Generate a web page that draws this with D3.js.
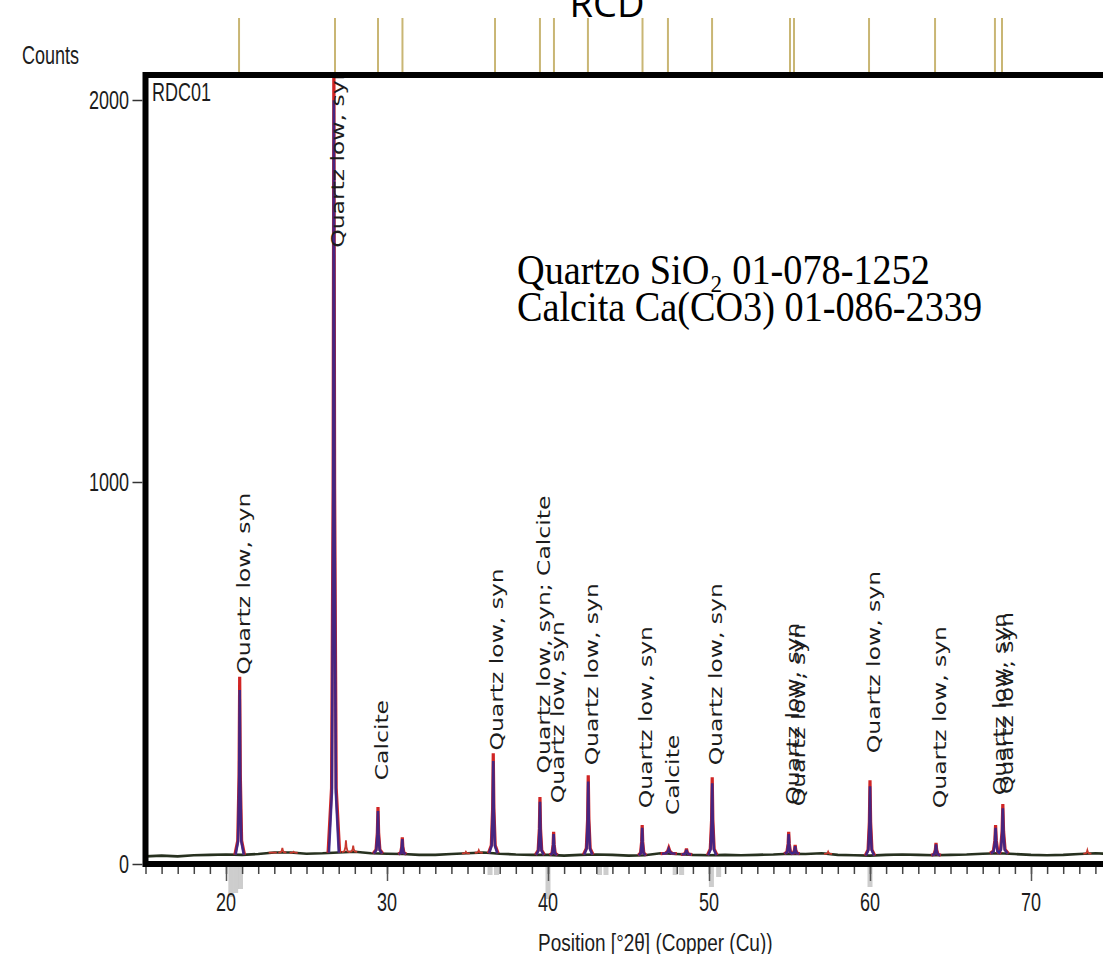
<!DOCTYPE html>
<html>
<head>
<meta charset="utf-8">
<title>RCD</title>
<script src="https://d3js.org/d3.v7.min.js"></script>
<style>
    body { margin: 0; background: #fff; }
</style>
</head>
<body>
<div id="chart"></div>
<script>
    // peaks of the pattern, position in deg 2theta and counts
    const peakPos    = [20.85, 26.7, 29.44, 30.95, 36.6, 39.5, 40.35, 42.5, 45.85, 47.5, 48.6, 50.2, 54.95, 55.35, 60.0, 64.1, 67.8, 68.25];
    const peakCounts = [490, 2150, 149, 70, 290, 175, 84, 232, 102, 42, 40, 227, 84, 50, 219, 55, 102, 157];
    const peakWidth  = [0.3, 0.36, 0.3, 0.25, 0.3, 0.28, 0.25, 0.3, 0.25, 0.5, 0.35, 0.3, 0.28, 0.28, 0.3, 0.3, 0.35, 0.35];

    // small unlabeled bumps (observed only)
    const bumpPos    = [22.9, 23.5, 24.2, 27.45, 27.9, 34.9, 35.7, 57.4, 73.5];
    const bumpCounts = [30, 42, 32, 62, 48, 32, 36, 32, 36];

    // background level
    const bgPos    = [15, 16, 17, 18, 19, 20, 21, 22, 23, 24, 25, 26, 27, 28, 29, 30, 31, 32, 33, 34, 35, 36, 37, 38, 39, 40, 41, 42, 43, 44, 45,
                      46, 47, 48, 49, 50, 51, 52, 53, 54, 55, 56, 57, 58, 59, 60, 61, 62, 63, 64, 65, 66, 67, 68, 69, 70, 71, 72, 73, 74, 75];
    const bgCounts = [20, 22, 20, 23, 24, 25, 24, 26, 30, 30, 27, 28, 30, 32, 28, 27, 26, 24, 24, 26, 28, 30, 27, 25, 24, 24, 22, 24, 25, 24, 22,
                      23, 28, 26, 24, 23, 24, 23, 24, 25, 27, 26, 28, 24, 23, 22, 24, 25, 24, 23, 24, 25, 27, 28, 26, 24, 23, 24, 26, 28, 26];

    // peak labels
    const labelPos    = [20.85, 26.7, 29.44, 36.6, 39.5, 40.35, 42.5, 45.85, 47.5, 50.2, 54.95, 55.35, 60.0, 64.1, 67.8, 68.25];
    const labelCounts = [490, 1608, 214, 292, 232, 154, 253, 141, 123, 253, 150, 146, 285, 141, 175, 178];
    const labelText   = ["Quartz low, syn", "Quartz low, syn", "Calcite", "Quartz low, syn", "Quartz low, syn; Calcite",
                         "Quartz low, syn", "Quartz low, syn", "Quartz low, syn", "Calcite", "Quartz low, syn",
                         "Quartz low, syn", "Quartz low, syn", "Quartz low, syn", "Quartz low, syn", "Quartz low, syn", "Quartz low, syn"];

    // reference sticks above the plot
    const refPos = [20.81, 26.77, 29.44, 30.96, 36.71, 39.5, 40.37, 42.48, 45.87, 47.45, 50.19, 55.03, 55.28, 59.94, 64.04, 67.76, 68.2];
    // faint grey sticks under the axis
    const lowRefPos = [20.3, 20.6, 20.9, 36.4, 36.8, 40.0, 43.2, 43.6, 47.9, 48.3, 50.15, 50.6, 60.0];
    const lowRefLen = [30, 26, 22, 8, 8, 32, 8, 8, 8, 8, 20, 10, 20];

    const xTicks = [20, 30, 40, 50, 60, 70];
    const yTicks = [0, 1000, 2000];
    const noteLines = ["Quartzo SiO\u2082 01-078-1252", "Calcita Ca(CO3) 01-086-2339"];

    const width = 1103, height = 954;
    const frameTop = 75;
    const stretch = 1.42;

    const svg = d3.select("#chart").append("svg")
        .attr("width", width)
        .attr("height", height);

    const x = d3.scaleLinear().domain([15, 75]).range([145.5, 1111.5]);
    const y = d3.scaleLinear().domain([0, 2000]).range([864, 100]);

    // text drawn tall, like the stretched original
    function tallText(parent, tx, ty, txt, size, anchor, family, k) {
        return parent.append("g")
            .attr("transform", "translate(" + tx + "," + ty + ") scale(1," + (k || stretch) + ")")
            .append("text")
            .attr("text-anchor", anchor || "start")
            .style("font-family", family || "'Liberation Sans', Arial, sans-serif")
            .style("font-size", size + "px")
            .attr("fill", "#1c1c1c")
            .text(txt);
    }

    svg.append("defs").append("clipPath").attr("id", "plot")
        .append("rect")
        .attr("x", x(15)).attr("y", frameTop)
        .attr("width", x(75) - x(15)).attr("height", y(0) - frameTop);

    // title, cut at the top edge as in the original
    svg.append("text")
        .attr("x", 607).attr("y", 17)
        .attr("text-anchor", "middle")
        .style("font-family", "'Open Sans', sans-serif")
        .style("font-size", "38px")
        .text("RCD");

    // reference sticks
    svg.selectAll(".ref")
        .data(refPos)
        .enter()
        .append("line")
        .attr("class", "ref")
        .attr("x1", d => x(d)).attr("x2", d => x(d))
        .attr("y1", 18).attr("y2", frameTop)
        .attr("stroke", "#c9b674")
        .attr("stroke-width", 2);

    svg.selectAll(".lowref")
        .data(lowRefPos)
        .enter()
        .append("line")
        .attr("x1", d => x(d)).attr("x2", d => x(d))
        .attr("y1", y(0) + 3)
        .attr("y2", (d, i) => y(0) + 3 + lowRefLen[i])
        .attr("stroke", "#b8b8b8")
        .attr("stroke-width", 5)
        .attr("opacity", 0.7);

    const plot = svg.append("g").attr("clip-path", "url(#plot)");

    // background
    const line = d3.line().x(d => x(d[0])).y(d => y(d[1]));
    const bgAt = d3.scaleLinear().domain(bgPos).range(bgCounts);
    plot.append("path")
        .attr("d", line(d3.zip(bgPos, bgCounts)))
        .attr("fill", "none")
        .attr("stroke", "#27311f")
        .attr("stroke-width", 2.6);

    // peak outline: offsets in units of the half base width, and share of height
    const shapeOff = [-1, -0.4, -0.13, 0, 0.13, 0.4, 1];
    const shapeFrac = [0, 0.08, 0.45, 1, 0.45, 0.08, 0];
    function peakPath(p, h, w) {
        const b = bgAt(p);
        return line(shapeOff.map((o, i) => [p + o * w, b + shapeFrac[i] * (h - b)]));
    }

    plot.selectAll(".bump")
        .data(bumpPos)
        .enter()
        .append("path")
        .attr("d", (d, i) => peakPath(d, bumpCounts[i], 0.25))
        .attr("fill", "none")
        .attr("stroke", "#c8392e")
        .attr("stroke-width", 1.8);

    plot.selectAll(".obs")
        .data(peakPos)
        .enter()
        .append("path")
        .attr("d", (d, i) => peakPath(d, peakCounts[i], peakWidth[i]))
        .attr("fill", "none")
        .attr("stroke", "#d02525")
        .attr("stroke-width", 3.2);

    plot.selectAll(".calc")
        .data(peakPos)
        .enter()
        .append("path")
        .attr("d", (d, i) => peakPath(d, peakCounts[i] * 0.93, peakWidth[i] * 0.85))
        .attr("fill", "none")
        .attr("stroke", "#2e2690")
        .attr("stroke-width", 2.6)
        .attr("opacity", 0.85);

    // peak labels, reading upwards
    plot.selectAll(".lbl")
        .data(labelPos)
        .enter()
        .append("g")
        .attr("transform", (d, i) => "translate(" + (x(d) + 4) + "," + (y(labelCounts[i]) - 2) + ") scale(1,1.38) rotate(-90)")
        .append("text")
        .attr("dy", "0.35em")
        .style("font-family", "'DejaVu Sans', Verdana, sans-serif")
        .style("font-size", "17px")
        .attr("fill", "#1c1c1c")
        .text((d, i) => labelText[i]);

    // frame
    svg.append("rect")
        .attr("x", x(15)).attr("y", frameTop)
        .attr("width", x(75) - x(15)).attr("height", y(0) - frameTop)
        .attr("fill", "none")
        .attr("stroke", "#000")
        .attr("stroke-width", 6);

    // x axis
    const minor = svg.append("g")
        .attr("transform", "translate(0," + (y(0) + 3) + ")")
        .call(d3.axisBottom(x).ticks(60).tickSize(7).tickFormat(""));
    minor.select(".domain").remove();
    minor.selectAll("line").attr("stroke", "#444").attr("stroke-width", 1.5);

    const major = svg.append("g")
        .attr("transform", "translate(0," + (y(0) + 3) + ")")
        .call(d3.axisBottom(x).tickValues(xTicks).tickSize(14).tickFormat(""));
    major.select(".domain").remove();
    major.selectAll("line").attr("stroke", "#555").attr("stroke-width", 1.5);

    xTicks.forEach(t => tallText(svg, x(t), 911, t, 18, "middle"));

    // y axis
    const yAxis = svg.append("g")
        .attr("transform", "translate(" + (x(15) - 3) + ",0)")
        .call(d3.axisLeft(y).tickValues(yTicks).tickSize(10).tickFormat(""));
    yAxis.select(".domain").remove();
    yAxis.selectAll("line").attr("stroke", "#333").attr("stroke-width", 1.5);

    yTicks.forEach(t => tallText(svg, 129, y(t) + 9, t, 18, "end"));

    tallText(svg, 22, 64, "Counts", 18);
    tallText(svg, 152, 101, "RDC01", 18);
    tallText(svg, 538, 951, "Position [\u00b02\u03b8] (Copper (Cu))", 19, "start", null, 1.22);

    // phase note
    noteLines.forEach((t, i) => {
        tallText(svg, 517, 284 + i * 37, t, 34, "start", "'Liberation Serif', 'Times New Roman', serif", 1.26)
            .attr("textLength", i === 0 ? 413 : 465)
            .attr("lengthAdjust", "spacingAndGlyphs")
            .attr("fill", "#000");
    });
</script>
</body>
</html>
